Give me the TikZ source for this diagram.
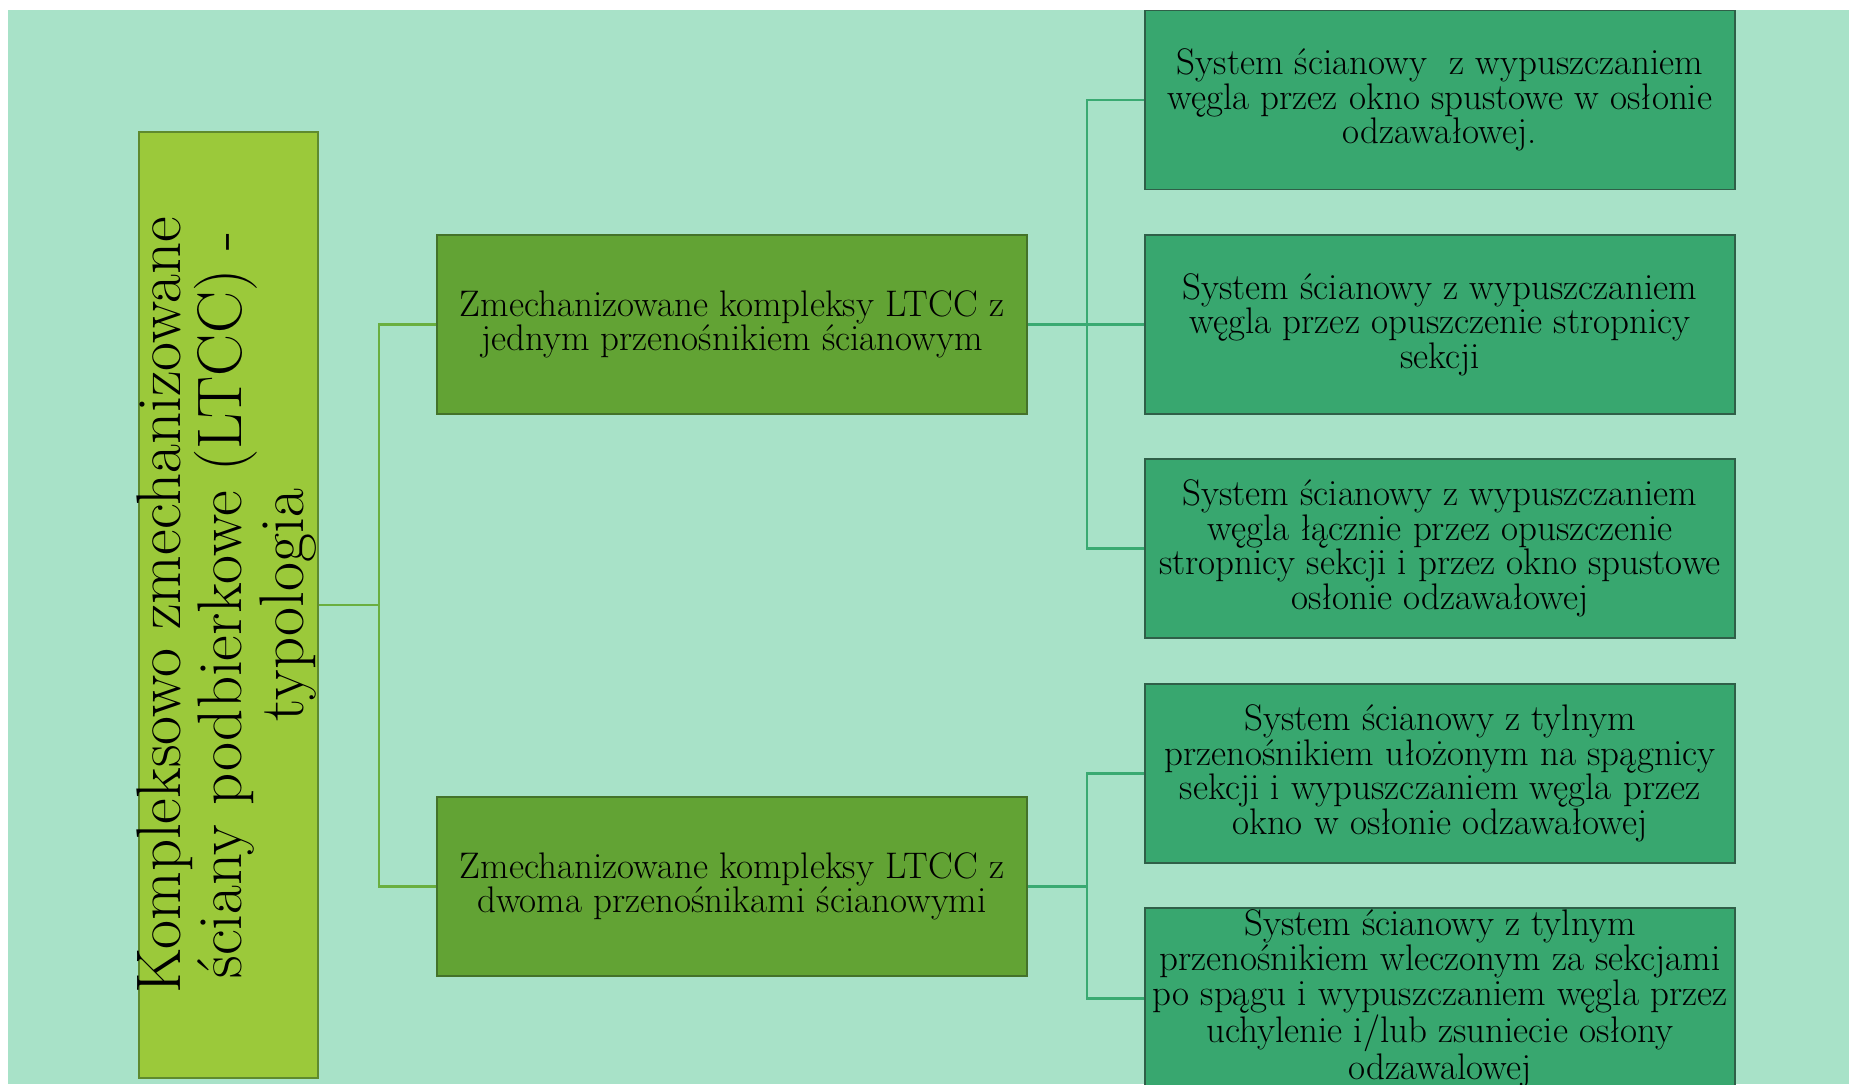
\documentclass[tikz,border=0pt]{standalone}
\usepackage{fontspec}
\usetikzlibrary{calc}
\definecolor{BackClr}{HTML}{A8E2C8}
\definecolor{RootClr}{HTML}{9BC93A}
\definecolor{RootLine}{HTML}{5F8A2E}
\definecolor{KindClr}{HTML}{62A334}
\definecolor{KindLine}{HTML}{44722A}
\definecolor{SysClr}{HTML}{38A76F}
\definecolor{SysLine}{HTML}{2F5F48}
\definecolor{TrunkClr}{HTML}{6AAF40}
\definecolor{BranchClr}{HTML}{3AAA72}

\begin{document}
\begin{tikzpicture}[x=0.5pt,y=-0.5pt,
  kind/.style={draw=KindLine,line width=0.75pt,fill=KindClr,minimum width=295pt,
    minimum height=89.5pt,align=center,inner sep=1pt,font=\fontsize{18.5}{17.3}\selectfont},
  sys/.style={kind,draw=SysLine,fill=SysClr},
  root/.style={kind,draw=RootLine,fill=RootClr,rotate=90,minimum width=473pt,
    inner sep=0pt,text height=82pt,text depth=7.5pt,font=\fontsize{31.5}{28}\selectfont},
  trunk/.style={draw=TrunkClr,line width=1.25pt},
  branch/.style={draw=BranchClr,line width=1.25pt}]

\useasboundingbox (0,0) rectangle (1849,1084);
\fill[BackClr] (8,10) rectangle (1849,1084);

\node[root] (ltcc) at (228.5,605) {Kompleksowo zmechanizowane\\ściany podbierkowe (LTCC) -\\typologia};

\node[kind] (one) at (732,324.5) {Zmechanizowane kompleksy LTCC z\\jednym przenośnikiem ścianowym};
\node[kind] (two) at (732,886.5) {Zmechanizowane kompleksy LTCC z\\dwoma przenośnikami ścianowymi};

\node[sys] (oneA) at (1440,100) {System ścianowy\ \ z wypuszczaniem\\węgla przez okno spustowe w osłonie\\odzawałowej.};
\node[sys] (oneB) at (1440,324.5) {System ścianowy z wypuszczaniem\\węgla przez opuszczenie stropnicy\\sekcji};
\node[sys] (oneC) at (1440,548.5) {System ścianowy z wypuszczaniem\\węgla łącznie przez opuszczenie\\stropnicy sekcji i przez okno spustowe\\osłonie odzawałowej};
\node[sys] (twoA) at (1440,773.5) {System ścianowy z tylnym\\przenośnikiem ułożonym na spągnicy\\sekcji i wypuszczaniem węgla przez\\okno w osłonie odzawałowej};
\node[sys] (twoB) at (1440,998.5) {System ścianowy z tylnym\\przenośnikiem wleczonym za sekcjami\\po spągu i wypuszczaniem węgla przez\\uchylenie i/lub zsuniecie osłony\\odzawalowej};

\coordinate (jltcc) at ($(ltcc.south)+(60,0)$);
\coordinate (jone) at ($(one.east)+(59,0)$);
\coordinate (jtwo) at ($(two.east)+(59,0)$);

\draw[trunk] (ltcc.south) -- (jltcc) |- (one.west);
\draw[trunk] (jltcc) |- (two.west);

\draw[branch] (one.east) -- (jone);
\foreach \s in {oneA,oneB,oneC} \draw[branch] (jone) |- (\s.west);
\draw[branch] (two.east) -- (jtwo);
\foreach \s in {twoA,twoB} \draw[branch] (jtwo) |- (\s.west);

\end{tikzpicture}
\end{document}
